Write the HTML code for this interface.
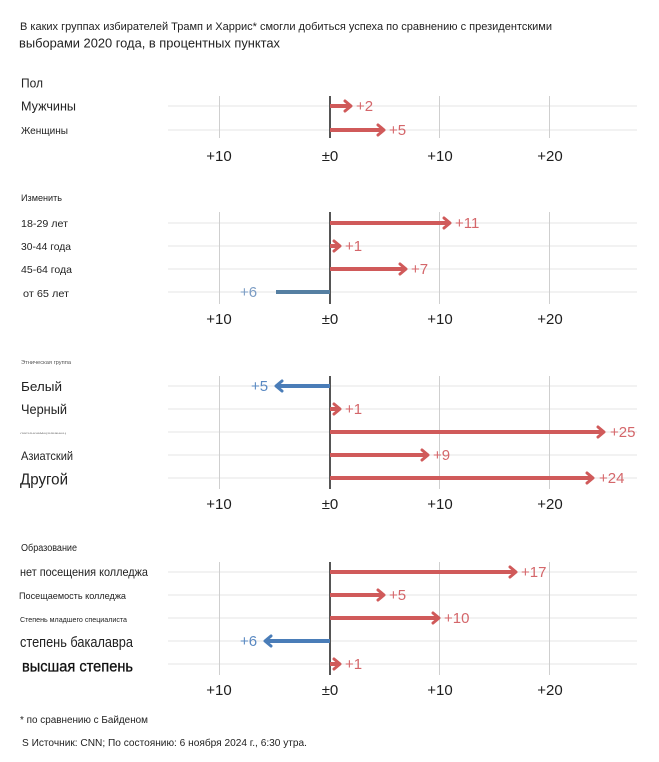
<!DOCTYPE html>
<html><head><meta charset="utf-8"><style>
html,body{margin:0;padding:0;background:#fff;}
svg{display:block;font-family:"Liberation Sans","Noto Sans CJK SC",sans-serif;}
.t{fill:#222;}
.ax{fill:#1e1e1e;font-size:15px;text-anchor:middle;}
.rv{fill:#d4666a;font-size:15px;}
.bv{fill:#5a89c2;font-size:15px;}
.g{stroke:#cfcfcf;stroke-width:1;}
.z{stroke:#555;stroke-width:2;}
.r{stroke:#e4e4e4;stroke-width:1;}
.ra{stroke:#d05a5a;fill:none;stroke-width:4;}
.rh{stroke:#d05a5a;fill:none;stroke-width:3;stroke-linecap:round;stroke-linejoin:round;}
.ba{stroke:#4a7db8;fill:none;stroke-width:4;}
.bh{stroke:#4a7db8;fill:none;stroke-width:3;stroke-linecap:round;stroke-linejoin:round;}
</style></head><body>
<svg width="659" height="762" viewBox="0 0 659 762" xmlns="http://www.w3.org/2000/svg">
<rect width="659" height="762" fill="#fff"/>
<!-- title -->
<text class="t" x="20" y="30" font-size="11" textLength="532" lengthAdjust="spacingAndGlyphs">В каких группах избирателей Трамп и Харрис* смогли добиться успеха по сравнению с президентскими</text>
<text class="t" x="19" y="47.5" font-size="13" textLength="261" lengthAdjust="spacingAndGlyphs">выборами 2020 года, в процентных пунктах</text>

<!-- PANEL 1 -->
<text class="t" x="21" y="87.5" font-size="13" textLength="22" lengthAdjust="spacingAndGlyphs">Пол</text>
<text class="t" x="21" y="110.5" font-size="13" textLength="55" lengthAdjust="spacingAndGlyphs">Мужчины</text>
<text class="t" x="21" y="134" font-size="10" textLength="47" lengthAdjust="spacingAndGlyphs">Женщины</text>
<line class="r" x1="168" y1="106" x2="637" y2="106"/>
<line class="r" x1="168" y1="130" x2="637" y2="130"/>
<line class="g" x1="219.5" y1="96" x2="219.5" y2="138"/>
<line class="g" x1="439.5" y1="96" x2="439.5" y2="138"/>
<line class="g" x1="549.5" y1="96" x2="549.5" y2="138"/>
<line class="z" x1="330" y1="96" x2="330" y2="138"/>
<line class="ra" x1="330" y1="106" x2="350" y2="106"/><polyline class="rh" points="345,101 351,106 345,111"/>
<text class="rv" x="356" y="111">+2</text>
<line class="ra" x1="330" y1="130" x2="383" y2="130"/><polyline class="rh" points="378,125 384,130 378,135"/>
<text class="rv" x="389" y="135">+5</text>
<text class="ax" x="219" y="161">+10</text><text class="ax" x="330" y="161">±0</text><text class="ax" x="440" y="161">+10</text><text class="ax" x="550" y="161">+20</text>

<!-- PANEL 2 -->
<text class="t" x="21" y="201" font-size="9" textLength="41" lengthAdjust="spacingAndGlyphs">Изменить</text>
<text class="t" x="21" y="227" font-size="10.5" textLength="47" lengthAdjust="spacingAndGlyphs">18-29 лет</text>
<text class="t" x="21" y="250" font-size="10.5" textLength="50" lengthAdjust="spacingAndGlyphs">30-44 года</text>
<text class="t" x="21" y="273" font-size="10.5" textLength="51" lengthAdjust="spacingAndGlyphs">45-64 года</text>
<text class="t" x="23" y="297" font-size="10.5" textLength="46" lengthAdjust="spacingAndGlyphs">от 65 лет</text>
<line class="r" x1="168" y1="223" x2="637" y2="223"/>
<line class="r" x1="168" y1="246" x2="637" y2="246"/>
<line class="r" x1="168" y1="269" x2="637" y2="269"/>
<line class="r" x1="168" y1="292" x2="637" y2="292"/>
<line class="g" x1="219.5" y1="212" x2="219.5" y2="304"/>
<line class="g" x1="439.5" y1="212" x2="439.5" y2="304"/>
<line class="g" x1="549.5" y1="212" x2="549.5" y2="304"/>
<line class="z" x1="330" y1="212" x2="330" y2="304"/>
<line class="ra" x1="330" y1="223" x2="449" y2="223"/><polyline class="rh" points="444,218 450,223 444,228"/>
<text class="rv" x="455" y="228">+11</text>
<line class="ra" x1="330" y1="246" x2="339" y2="246"/><polyline class="rh" points="334,241 340,246 334,251"/>
<text class="rv" x="345" y="251">+1</text>
<line class="ra" x1="330" y1="269" x2="405" y2="269"/><polyline class="rh" points="400,264 406,269 400,274"/>
<text class="rv" x="411" y="274">+7</text>
<line x1="276" y1="292" x2="330" y2="292" stroke="#557fa2" stroke-width="4"/>
<text x="240" y="297" font-size="15" fill="#7b9cc4">+6</text>

<text class="ax" x="219" y="324">+10</text><text class="ax" x="330" y="324">±0</text><text class="ax" x="440" y="324">+10</text><text class="ax" x="550" y="324">+20</text>

<!-- PANEL 3 -->
<text x="21" y="364" font-size="5" fill="#555" textLength="50" lengthAdjust="spacingAndGlyphs">Этническая группа</text>
<text class="t" x="21" y="391" font-size="13" textLength="41" lengthAdjust="spacingAndGlyphs">Белый</text>
<text class="t" x="21" y="414" font-size="14" textLength="46" lengthAdjust="spacingAndGlyphs">Черный</text>
<text x="20" y="434" font-size="3" fill="#777" textLength="46" lengthAdjust="spacingAndGlyphs">латиноамериканец</text>
<text class="t" x="21" y="460" font-size="12" textLength="52" lengthAdjust="spacingAndGlyphs">Азиатский</text>
<text class="t" x="20" y="484.5" font-size="16" textLength="48" lengthAdjust="spacingAndGlyphs">Другой</text>
<line class="r" x1="168" y1="386" x2="637" y2="386"/>
<line class="r" x1="168" y1="409" x2="637" y2="409"/>
<line class="r" x1="168" y1="432" x2="637" y2="432"/>
<line class="r" x1="168" y1="455" x2="637" y2="455"/>
<line class="r" x1="168" y1="478" x2="637" y2="478"/>
<line class="g" x1="219.5" y1="376" x2="219.5" y2="489"/>
<line class="g" x1="439.5" y1="376" x2="439.5" y2="489"/>
<line class="g" x1="549.5" y1="376" x2="549.5" y2="489"/>
<line class="z" x1="330" y1="376" x2="330" y2="489"/>
<line class="ba" x1="330" y1="386" x2="277" y2="386"/><polyline class="bh" points="282,381 276,386 282,391"/>
<text class="bv" x="251" y="391">+5</text>
<line class="ra" x1="330" y1="409" x2="339" y2="409"/><polyline class="rh" points="334,404 340,409 334,414"/>
<text class="rv" x="345" y="414">+1</text>
<line class="ra" x1="330" y1="432" x2="603" y2="432"/><polyline class="rh" points="598,427 604,432 598,437"/>
<text class="rv" x="610" y="437">+25</text>
<line class="ra" x1="330" y1="455" x2="427" y2="455"/><polyline class="rh" points="422,450 428,455 422,460"/>
<text class="rv" x="433" y="460">+9</text>
<line class="ra" x1="330" y1="478" x2="592" y2="478"/><polyline class="rh" points="587,473 593,478 587,483"/>
<text class="rv" x="599" y="483">+24</text>
<text class="ax" x="219" y="509">+10</text><text class="ax" x="330" y="509">±0</text><text class="ax" x="440" y="509">+10</text><text class="ax" x="550" y="509">+20</text>

<!-- PANEL 4 -->
<text class="t" x="21" y="551" font-size="10" textLength="56" lengthAdjust="spacingAndGlyphs">Образование</text>
<text class="t" x="20" y="576" font-size="12" textLength="128" lengthAdjust="spacingAndGlyphs">нет посещения колледжа</text>
<text class="t" x="19" y="599" font-size="9.5" textLength="107" lengthAdjust="spacingAndGlyphs">Посещаемость колледжа</text>
<text class="t" x="20" y="622" font-size="7.5" textLength="107" lengthAdjust="spacingAndGlyphs">Степень младшего специалиста</text>
<text class="t" x="20" y="647" font-size="15" textLength="113" lengthAdjust="spacingAndGlyphs">степень бакалавра</text>
<text x="22" y="671.5" font-size="15.5" fill="#111" textLength="111" lengthAdjust="spacingAndGlyphs" stroke="#111" stroke-width="0.3">высшая степень</text>
<line class="r" x1="168" y1="572" x2="637" y2="572"/>
<line class="r" x1="168" y1="595" x2="637" y2="595"/>
<line class="r" x1="168" y1="618" x2="637" y2="618"/>
<line class="r" x1="168" y1="641" x2="637" y2="641"/>
<line class="r" x1="168" y1="664" x2="637" y2="664"/>
<line class="g" x1="219.5" y1="562" x2="219.5" y2="675"/>
<line class="g" x1="439.5" y1="562" x2="439.5" y2="675"/>
<line class="g" x1="549.5" y1="562" x2="549.5" y2="675"/>
<line class="z" x1="330" y1="562" x2="330" y2="675"/>
<line class="ra" x1="330" y1="572" x2="515" y2="572"/><polyline class="rh" points="510,567 516,572 510,577"/>
<text class="rv" x="521" y="577">+17</text>
<line class="ra" x1="330" y1="595" x2="383" y2="595"/><polyline class="rh" points="378,590 384,595 378,600"/>
<text class="rv" x="389" y="600">+5</text>
<line class="ra" x1="330" y1="618" x2="438" y2="618"/><polyline class="rh" points="433,613 439,618 433,623"/>
<text class="rv" x="444" y="623">+10</text>
<line class="ba" x1="330" y1="641" x2="266" y2="641"/><polyline class="bh" points="271,636 265,641 271,646"/>
<text class="bv" x="240" y="646">+6</text>
<line class="ra" x1="330" y1="664" x2="339" y2="664"/><polyline class="rh" points="334,659 340,664 334,669"/>
<text class="rv" x="345" y="669">+1</text>
<text class="ax" x="219" y="695">+10</text><text class="ax" x="330" y="695">±0</text><text class="ax" x="440" y="695">+10</text><text class="ax" x="550" y="695">+20</text>

<!-- footer -->
<text class="t" x="20" y="723" font-size="10" textLength="128" lengthAdjust="spacingAndGlyphs">* по сравнению с Байденом</text>
<text class="t" x="22" y="746" font-size="10.5" textLength="285" lengthAdjust="spacingAndGlyphs">S Источник: CNN; По состоянию: 6 ноября 2024 г., 6:30 утра.</text>
</svg>
</body></html>
